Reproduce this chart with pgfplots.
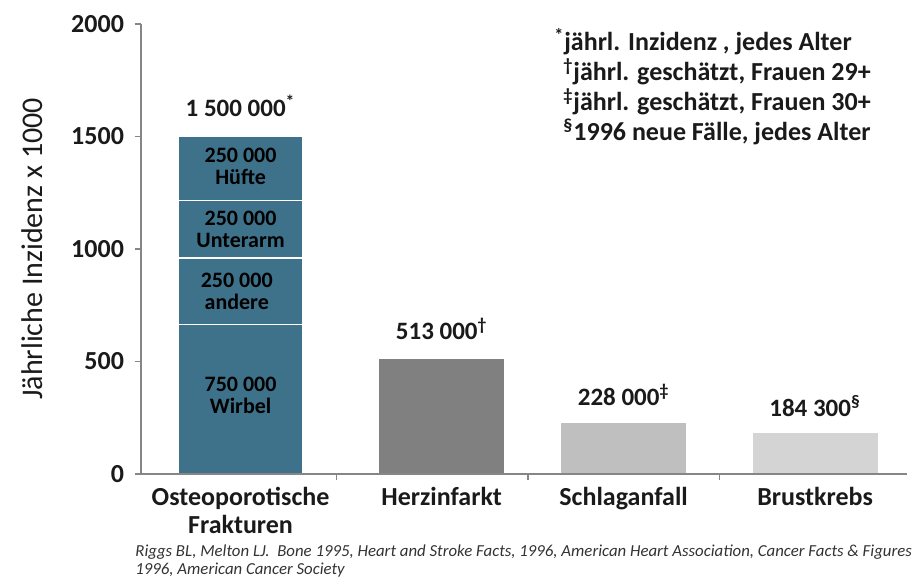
\documentclass[border=0pt]{standalone}
\usepackage{fontspec}
\setmainfont{Carlito}
\usepackage{pgfplots}
\pgfplotsset{compat=1.18}
\definecolor{barteal}{HTML}{3E728A}
\definecolor{bargrayA}{HTML}{808080}
\definecolor{bargrayB}{HTML}{BFBFBF}
\definecolor{bargrayC}{HTML}{D4D4D4}
\definecolor{axisgray}{HTML}{868686}
\definecolor{txt}{HTML}{1A1A1A}
\definecolor{foot}{HTML}{333333}
\begin{document}
\begin{tikzpicture}
\useasboundingbox (-70.5pt,-52.5pt) rectangle (387.5pt,237pt);
\clip (-70.5pt,-52.5pt) rectangle (387.5pt,237pt);
\begin{axis}[
  at={(0,0)}, anchor=south west,
  scale only axis, width=383pt, height=225pt,
  xmin=-0.52, xmax=3.48, ymin=0, ymax=2000,
  axis x line=bottom, axis y line=left,
  axis line style={draw=axisgray, line width=0.8pt, -},
  ybar stacked, bar width=62.5pt,
  xtick={0,1.05,2,3},
  xticklabels={{Osteoporotische\\Frakturen},Herzinfarkt,Schlaganfall,Brustkrebs},
  xticklabel style={align=center, font=\fontsize{13}{14}\selectfont\bfseries, text=txt},
  major x tick style={draw=none},
  minor xtick={0.5,1.5,2.5},
  minor x tick style={draw=axisgray, line width=0.8pt},
  minor tick length=3pt,
  ytick={0,500,1000,1500,2000},
  major tick length=3pt,
  tick align=outside,
  y tick style={draw=axisgray, line width=0.6pt},
  yticklabel style={font=\fontsize{13}{15}\selectfont\bfseries, text=txt, xshift=-2pt},
  /pgf/number format/assume math mode=true,
  /pgf/number format/1000 sep={},
  ylabel={Jährliche Inzidenz x 1000},
  ylabel style={at={(axis description cs:0,0.5)}, anchor=center, yshift=54.5pt, font=\fontsize{15}{17}\selectfont, text=txt},
  axis on top,
]
% Osteoporotische Frakturen, stacked: Wirbel, andere, Unterarm, Hüfte
\addplot[fill=barteal, draw=white, line width=0.8pt] coordinates {(0,665) (1.05,0) (2,0) (3,0)};
\addplot[fill=barteal, draw=white, line width=0.8pt] coordinates {(0,295) (1.05,0) (2,0) (3,0)};
\addplot[fill=barteal, draw=white, line width=0.8pt] coordinates {(0,255) (1.05,0) (2,0) (3,0)};
\addplot[fill=barteal, draw=white, line width=0.8pt] coordinates {(0,285) (1.05,0) (2,0) (3,0)};
% Herzinfarkt
\addplot[fill=bargrayA, draw=none] coordinates {(0,0) (1.05,513) (2,0) (3,0)};
% Schlaganfall
\addplot[fill=bargrayB, draw=none] coordinates {(0,0) (1.05,0) (2,228) (3,0)};
% Brustkrebs
\addplot[fill=bargrayC, draw=none] coordinates {(0,0) (1.05,0) (2,0) (3,184.3)};

\coordinate (lA) at (axis cs:0,1635);
\coordinate (lB) at (axis cs:1.05,644);
\coordinate (lC) at (axis cs:2,351);
\coordinate (lD) at (axis cs:3,302);
\coordinate (sH) at (axis cs:0,1369);
\coordinate (sU) at (axis cs:0,1089);
\coordinate (sA) at (axis cs:-0.02,813);
\coordinate (sW) at (axis cs:0,351);
\end{axis}
\node[font=\fontsize{12.5}{14}\selectfont\bfseries, text=txt] at (lA) {1 500 000\textsuperscript{*}};
\node[font=\fontsize{12.5}{14}\selectfont\bfseries, text=txt] at (lB) {513 000\textsuperscript{†}};
\node[font=\fontsize{12.5}{14}\selectfont\bfseries, text=txt] at (lC) {228 000\textsuperscript{‡}};
\node[font=\fontsize{12.5}{14}\selectfont\bfseries, text=txt] at (lD) {184 300\textsuperscript{§}};
\node[font=\fontsize{11}{11}\selectfont\bfseries, text=black, align=center] at (sH) {250 000\\Hüfte};
\node[font=\fontsize{11}{11}\selectfont\bfseries, text=black, align=center] at (sU) {250 000\\Unterarm};
\node[font=\fontsize{11}{11}\selectfont\bfseries, text=black, align=center] at (sA) {250 000\\andere};
\node[font=\fontsize{11}{11}\selectfont\bfseries, text=black, align=center] at (sW) {750 000\\Wirbel};
\node[font=\fontsize{13}{15}\selectfont\bfseries, text=txt, align=center] at (288pt,193.5pt)
  {\textsuperscript{*}jährl. Inzidenz , jedes Alter\hspace*{14pt}\\
   \textsuperscript{†}jährl. geschätzt, Frauen 29+\\
   \textsuperscript{‡}jährl. geschätzt, Frauen 30+\\
   \textsuperscript{§}1996 neue Fälle, jedes Alter};
\node[anchor=north west, font=\fontsize{8.4}{9}\selectfont\itshape, text=foot, align=left, inner sep=0pt] at (-3pt,-35pt)
  {Riggs BL, Melton LJ.\ \ Bone 1995, Heart and Stroke Facts, 1996, American Heart Association, Cancer Facts \& Figures\\1996, American Cancer Society};
\end{tikzpicture}
\end{document}
